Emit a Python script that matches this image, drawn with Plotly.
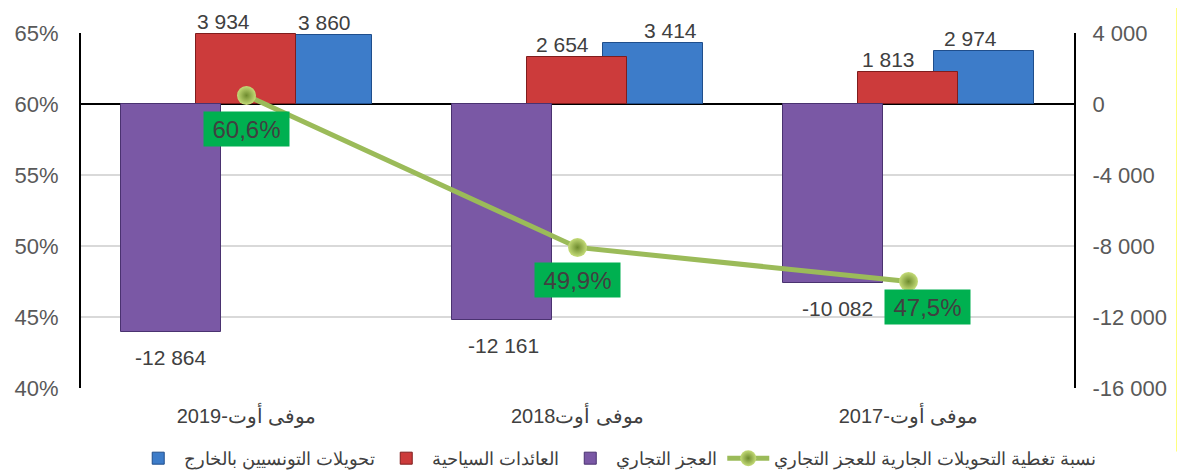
import plotly.graph_objects as go

categories = ["موفى أوت-2019", "موفى أوت2018", "موفى أوت-2017"]
transfers = [3860, 3414, 2974]          # تحويلات التونسيين بالخارج
tourism = [3934, 2654, 1813]            # العائدات السياحية
deficit = [-12864, -12161, -10082]      # العجز التجاري
coverage = [0.606, 0.499, 0.475]        # نسبة تغطية التحويلات الجارية للعجز التجاري

names = ["تحويلات التونسيين بالخارج", "العائدات السياحية", "العجز التجاري",
         "نسبة تغطية التحويلات الجارية للعجز التجاري"]

right_ticks = [4000, 0, -4000, -8000, -12000, -16000]
right_ticktext = ["4 000", "0", "-4 000", "-8 000", "-12 000", "-16 000"]
left_ticks = [0.40, 0.45, 0.50, 0.55, 0.60, 0.65]


def fmt_int(v):
    return f"{v:,}".replace(",", " ")


def fmt_pct(v):
    return f"{v * 100:.1f}%".replace(".", ",")


FONT = "Arial, Liberation Sans, sans-serif"
TXT = "#404040"
SLOT_PX = 331  # pixel width of one category slot (for label shifts)

fig = go.Figure()

# (values, name, fill, outline, offset, label x-nudges in px)
bar_specs = [
    (transfers, names[0], "#3D7CC9", "#1F4E8C", 0.077, [2, 17, -14]),
    (tourism, names[1], "#CC3B3B", "#7F1D1D", -0.153, [-23, -15, -20]),
    (deficit, names[2], "#7A58A5", "#4A3270", -0.379, [0, 1, 4]),
]
BAR_W = 0.303
for vals, nm, col, lcol, off, nudges in bar_specs:
    fig.add_trace(go.Bar(
        x=categories, y=vals, name=nm,
        offset=off, width=BAR_W,
        marker=dict(color=col, line=dict(color=lcol, width=1)),
        yaxis="y",
    ))
    center_px = (off + BAR_W / 2) * SLOT_PX
    for c, v, n in zip(categories, vals, nudges):
        fig.add_annotation(
            x=c, y=v, xref="x", yref="y", text=fmt_int(v), showarrow=False,
            xshift=center_px + n,
            yanchor="bottom" if v >= 0 else "top",
            yshift=0 if v >= 0 else -13,
            borderpad=0,
            font=dict(size=21, color=TXT, family=FONT),
        )

fig.add_trace(go.Scatter(
    x=categories, y=coverage, name=names[3], yaxis="y2",
    mode="lines+markers",
    line=dict(color="#9BBB59", width=5),
    marker=dict(size=19, color="#C5DC78",
                gradient=dict(type="radial", color="#6E8B2E"),
                line=dict(width=0)),
    cliponaxis=False,
))

label_shifts = [(0, -34), (0, -33), (19, -25)]
for c, v, (dx, dy) in zip(categories, coverage, label_shifts):
    fig.add_annotation(
        x=c, y=v, xref="x", yref="y2", text=fmt_pct(v), showarrow=False,
        xshift=dx, yshift=dy, bgcolor="#00B050", width=85, height=34,
        borderpad=0, font=dict(size=24, color=TXT, family=FONT),
    )

# thin yellow frame edge at the right of the picture
fig.add_annotation(
    xref="paper", yref="paper", x=1.1057, y=0.5, text=" ", showarrow=False,
    width=1, height=480, bgcolor="#FFFF00", borderpad=0,
)

# page body adds an 8px offset, so the figure is 8px smaller and shifted
fig.update_layout(
    width=1177, height=467,
    margin=dict(l=73, r=111, t=25, b=87, autoexpand=False),
    paper_bgcolor="white", plot_bgcolor="white",
    barmode="overlay", bargap=0,
    showlegend=True,
    font=dict(family=FONT, color=TXT),
    xaxis=dict(
        type="category", categoryorder="array", categoryarray=categories,
        showgrid=False, showline=False, ticks="", zeroline=False,
        tickfont=dict(size=20, color=TXT, family=FONT),
        ticklabelstandoff=14, automargin=False,
    ),
    yaxis=dict(
        side="right", range=[-16000, 4000],
        tickvals=right_ticks, ticktext=right_ticktext,
        tickfont=dict(size=22, color="#595959", family=FONT),
        showgrid=True, gridcolor="#D9D9D9", gridwidth=1.5,
        zeroline=True, zerolinecolor="black", zerolinewidth=2,
        showline=True, linecolor="black", linewidth=2, ticks="",
        ticklabelstandoff=12, automargin=False,
    ),
    yaxis2=dict(
        side="left", overlaying="y", range=[0.40, 0.65],
        tickvals=left_ticks, tickformat=".0%",
        tickfont=dict(size=22, color="#595959", family=FONT),
        showgrid=False, zeroline=False,
        showline=True, linecolor="black", linewidth=2, ticks="",
        ticklabelstandoff=16, automargin=False,
    ),
    legend=dict(
        orientation="h", x=0.54, xanchor="center",
        yref="container", y=0.075, yanchor="top",
        font=dict(size=18, color=TXT, family=FONT),
        traceorder="normal", itemwidth=42,
    ),
)

fig.write_html("out.html")
